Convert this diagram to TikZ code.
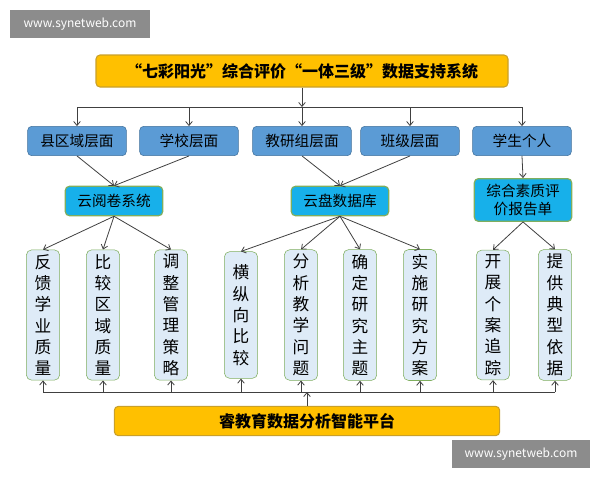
\documentclass[tikz,border=0pt]{standalone}
\usepackage{fontspec}
\setmainfont{Noto Sans CJK SC}
\usetikzlibrary{arrows.meta}
\definecolor{gold}{HTML}{FFC000}
\definecolor{goldb}{HTML}{C9A02A}
\definecolor{blueL}{HTML}{5B9BD5}
\definecolor{blueB}{HTML}{41719C}
\definecolor{cyanL}{HTML}{17B0EA}
\definecolor{greenB}{HTML}{7FAE5E}
\definecolor{paleB}{HTML}{DEEBF7}
\begin{document}
\begin{tikzpicture}[x=0.75pt,y=-0.75pt,
  goldbox/.style={draw=goldb,fill=gold,rounded corners=3pt,line width=0.8pt,font=\bfseries\fontsize{12}{14}\selectfont},
  lvltwo/.style={draw=blueB,fill=blueL,rounded corners=3pt,minimum width=74pt,minimum height=22pt,font=\fontsize{11}{13}\selectfont},
  lvlthree/.style={draw=greenB,fill=cyanL,rounded corners=3pt,line width=0.9pt,minimum width=73pt,font=\fontsize{11}{13}\selectfont,align=center},
  vbox/.style={draw=greenB,fill=paleB,rounded corners=4pt,minimum width=25pt,minimum height=95pt,align=center,font=\fontsize{12.5}{16}\selectfont},
  arr/.style={-{Straight Barb[length=3pt,width=5pt]},draw=black!75,line width=0.6pt},
  wm/.style={fill=black!45,text=white,font=\fontsize{9}{11}\selectfont,inner sep=0pt}]
\useasboundingbox (0,0) rectangle (600,480);
\node[wm,minimum width=105pt,minimum height=21pt] (wm1) at (80,24) {www.synetweb.com};
\node[wm,minimum width=104pt,minimum height=21pt] (wm2) at (521,454) {www.synetweb.com};
\node[goldbox,minimum width=309pt,minimum height=24pt] (top) at (302,71) {“七彩阳光”综合评价“一体三级”数据支持系统};
\node[lvltwo] (a1) at (77,141) {县区域层面};
\node[lvltwo] (a2) at (189,141) {学校层面};
\node[lvltwo] (a3) at (302,141) {教研组层面};
\node[lvltwo] (a4) at (410,141) {班级层面};
\node[lvltwo] (a5) at (522,141) {学生个人};
\node[lvlthree,minimum height=22pt] (b1) at (114,201) {云阅卷系统};
\node[lvlthree,minimum height=22pt] (b2) at (340,201) {云盘数据库};
\node[lvlthree,minimum height=32pt,text width=62pt,inner sep=1pt] (b3) at (523,200) {综合素质评\\价报告单};
\foreach \n/\x/\t in {c1/43/反\\馈\\学\\业\\质\\量, c2/103/比\\较\\区\\域\\质\\量, c3/171/调\\整\\管\\理\\策\\略,
  c4/241/横\\纵\\向\\比\\较, c5/301/分\\析\\教\\学\\问\\题, c6/360/确\\定\\研\\究\\主\\题, c7/420/实\\施\\研\\究\\方\\案,
  c8/493/开\\展\\个\\案\\追\\踪, c9/555/提\\供\\典\\型\\依\\据}
  \node[vbox] (\n) at (\x,315) {\t};
\node[goldbox,minimum width=289pt,minimum height=22pt] (bot) at (307,421) {睿教育数据分析智能平台};
\coordinate (j) at (302,107);
\draw[arr] (top.south) -- (j);
\draw[line width=0.6pt,draw=black!75] (a1.north |- j) -- (a5.north |- j);
\foreach \n in {a1,a2,a3,a4,a5} \draw[arr] (\n.north |- j) -- (\n.north);
\draw[arr] (a1.south) -- (b1.north);
\draw[arr] (a2.south) -- (b1.north);
\draw[arr] (a3.south) -- (b2.north);
\draw[arr] (a4.south) -- (b2.north);
\draw[arr] (a5.south) -- (b3.north);
\foreach \n in {c1,c2,c3} \draw[arr] (b1.south) -- (\n.north);
\foreach \n in {c4,c5,c6,c7} \draw[arr] (b2.south) -- (\n.north);
\foreach \n in {c8,c9} \draw[arr] (b3.south) -- (\n.north);
\coordinate (k) at (307,392);
\draw[arr] (bot.north) -- (k);
\draw[line width=0.6pt,draw=black!75] (c1.south |- k) -- (c9.south |- k);
\foreach \n in {c1,c2,c3,c4,c5,c6,c7,c8,c9} \draw[arr] (\n.south |- k) -- (\n.south);
\end{tikzpicture}
\end{document}
